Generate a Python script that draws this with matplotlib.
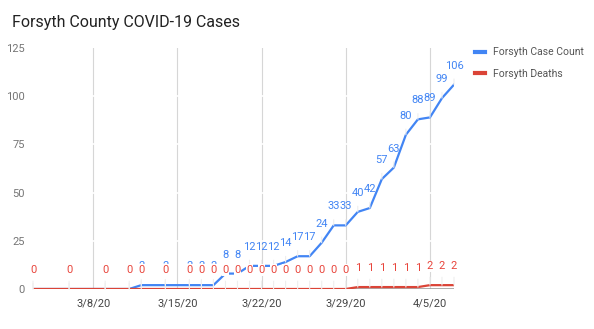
import matplotlib
matplotlib.use("Agg")
import matplotlib.pyplot as plt
import numpy as np
import pandas as pd

plt.rcParams['font.family'] = ['Roboto', 'DejaVu Sans']

# reported dates and daily totals
dates = ['2020-03-03', '2020-03-06', '2020-03-09', '2020-03-11', '2020-03-12',
         '2020-03-14', '2020-03-16', '2020-03-17', '2020-03-18', '2020-03-19',
         '2020-03-20', '2020-03-21', '2020-03-22', '2020-03-23', '2020-03-24',
         '2020-03-25', '2020-03-26', '2020-03-27', '2020-03-28', '2020-03-29',
         '2020-03-30', '2020-03-31', '2020-04-01', '2020-04-02', '2020-04-03',
         '2020-04-04', '2020-04-05', '2020-04-06', '2020-04-07']
cases = [0, 0, 0, 0, 2, 2, 2, 2, 2, 8, 8, 12, 12, 12, 14, 17, 17, 24, 33, 33,
         40, 42, 57, 63, 80, 88, 89, 99, 106]
deaths = [0, 0, 0, 0, 0, 0, 0, 0, 0, 0, 0, 0, 0, 0, 0, 0, 0, 0, 0, 0,
          1, 1, 1, 1, 1, 1, 2, 2, 2]

tick_dates = ['2020-03-08', '2020-03-15', '2020-03-22', '2020-03-29', '2020-04-05']
tick_labels = ['3/8/20', '3/15/20', '3/22/20', '3/29/20', '4/5/20']
y_ticks = [0, 25, 50, 75, 100, 125]

x = pd.to_datetime(dates)
xt = pd.to_datetime(tick_dates)

blue = '#4285F4'
red = '#DB4437'

fig = plt.figure(figsize=(5.94, 3.29), dpi=100)
ax = fig.add_axes([33 / 594, 40 / 329, 421 / 594, 241 / 329])

ax.set_xlim(x[0], x[-1])
ax.set_ylim(0, 125)

# vertical grid at the labelled dates, white horizontal rules over them
for d in xt:
    ax.axvline(d, color='#d6d6d6', lw=0.8, zorder=0)
for v in y_ticks[1:-1]:
    ax.axhline(v, color='white', lw=1.2, zorder=0.5)
ax.axhline(0, color='#9e9e9e', lw=1.2, zorder=1)

ax.plot(x, cases, color=blue, lw=1.6, label='Forsyth Case Count', zorder=3,
        solid_joinstyle='round')
ax.plot(x, deaths, color=red, lw=1.6, label='Forsyth Deaths', zorder=3)

# value annotations with thin stems
for xi, v in zip(x, cases):
    ax.annotate(str(v), (xi, v), xytext=(0, 19), textcoords='offset pixels',
                ha='center', va='center', fontsize=8, color=blue, zorder=4,
                arrowprops=dict(arrowstyle='-', color='#eeeeee', lw=0.8,
                                shrinkA=4, shrinkB=0))
for xi, v in zip(x, deaths):
    ax.annotate(str(v), (xi, v), xytext=(0, 19), textcoords='offset pixels',
                ha='center', va='center', fontsize=8, color='#E8453C', zorder=5,
                bbox=dict(boxstyle='square,pad=0.05', fc='white', ec='none'),
                arrowprops=dict(arrowstyle='-', color='#eeeeee', lw=0.8,
                                shrinkA=4, shrinkB=0))

ax.set_xticks(xt)
ax.set_xticklabels(tick_labels, fontsize=8, color='#444444')
ax.set_yticks(y_ticks)
ax.set_yticklabels([str(v) for v in y_ticks], fontsize=8, color='#757575')
ax.tick_params(length=0, pad=6)
ax.tick_params(axis='x', pad=7)
for s in ax.spines.values():
    s.set_visible(False)

fig.text(12 / 594, 1 - 22 / 329, 'Forsyth County COVID-19 Cases',
         fontsize=11.5, color='#222222', va='center', ha='left')

leg = ax.legend(loc='upper left', bbox_to_anchor=(466 / 594, 1 - 38 / 329),
                bbox_transform=fig.transFigure, frameon=False, fontsize=7.5,
                handlelength=0.9, handletextpad=0.8, labelspacing=1.1)
for h in leg.get_lines():
    h.set_linewidth(3)
for t in leg.get_texts():
    t.set_color('#555555')

fig.savefig('out.png', dpi=100)
